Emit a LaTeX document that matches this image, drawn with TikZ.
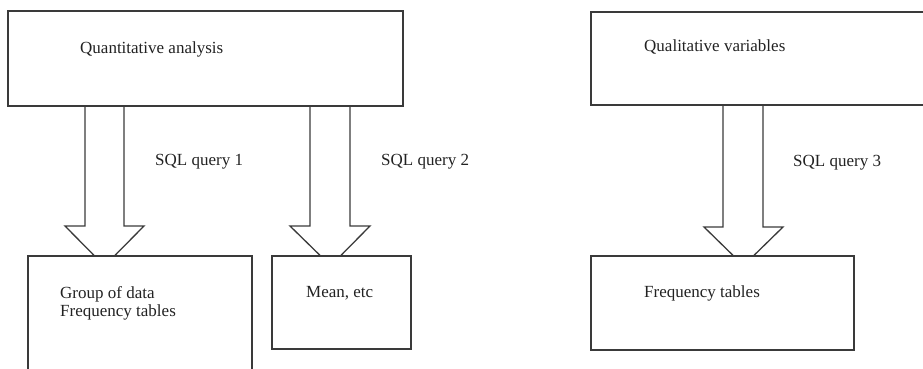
\documentclass[tikz,border=0pt]{standalone}
\usepackage{fontspec}
\setmainfont{Liberation Serif}
\definecolor{ln}{HTML}{3A3A3A}
\definecolor{tx}{HTML}{222222}
\begin{document}
\begin{tikzpicture}[x=1pt,y=-1pt,
  box/.style={draw=ln,line width=1.3pt,fill=none},
  arr/.style={draw=ln,line width=1.3pt,line join=miter},
  lbl/.style={anchor=base west,inner sep=0pt,text=tx,font=\fontsize{17}{18}\selectfont}]
\useasboundingbox (0,0) rectangle (923,369);
\clip (0,0) rectangle (923,369);
% boxes
\node[box,minimum width=395pt,minimum height=95pt,inner sep=0pt] (q) at (205.5,58.5) {};
\node[box,minimum width=339pt,minimum height=93pt,inner sep=0pt] (v) at (760.5,58.5) {};
\node[box,minimum width=224pt,minimum height=124pt,inner sep=0pt] (g) at (140,318) {};
\node[box,minimum width=139pt,minimum height=93pt,inner sep=0pt] (m) at (341.5,302.5) {};
\node[box,minimum width=263pt,minimum height=94pt,inner sep=0pt] (f) at (722.5,303) {};
% texts
\node[lbl] (tq) at (80,53) {Quantitative analysis};
\node[lbl] (tv) at (644,52) {Qualitative variables};
\node[lbl] (tg1) at (60,298) {Group of data};
\node[lbl] (tg2) at (60,316) {Frequency tables};
\node[lbl] (tm) at (306,297) {Mean, etc};
\node[lbl] (tf) at (644,297) {Frequency tables};
\node[lbl] (s1) at (155,165) {SQL query 1};
\node[lbl] (s2) at (381,165) {SQL query 2};
\node[lbl] (s3) at (793,166) {SQL query 3};
% block arrows
\draw[arr] (85,0 |- q.south) -- (85,226) -- (65,226) -- (94,0 |- g.north)
  (115,0 |- g.north) -- (144,226) -- (124,226) -- (124,0 |- q.south);
\draw[arr] (310,0 |- q.south) -- (310,226) -- (290,226) -- (320,0 |- m.north)
  (341,0 |- m.north) -- (370,226) -- (350,226) -- (350,0 |- q.south);
\draw[arr] (723,0 |- v.south) -- (723,227) -- (704,227) -- (733,0 |- f.north)
  (754,0 |- f.north) -- (783,227) -- (763,227) -- (763,0 |- v.south);
\end{tikzpicture}
\end{document}
